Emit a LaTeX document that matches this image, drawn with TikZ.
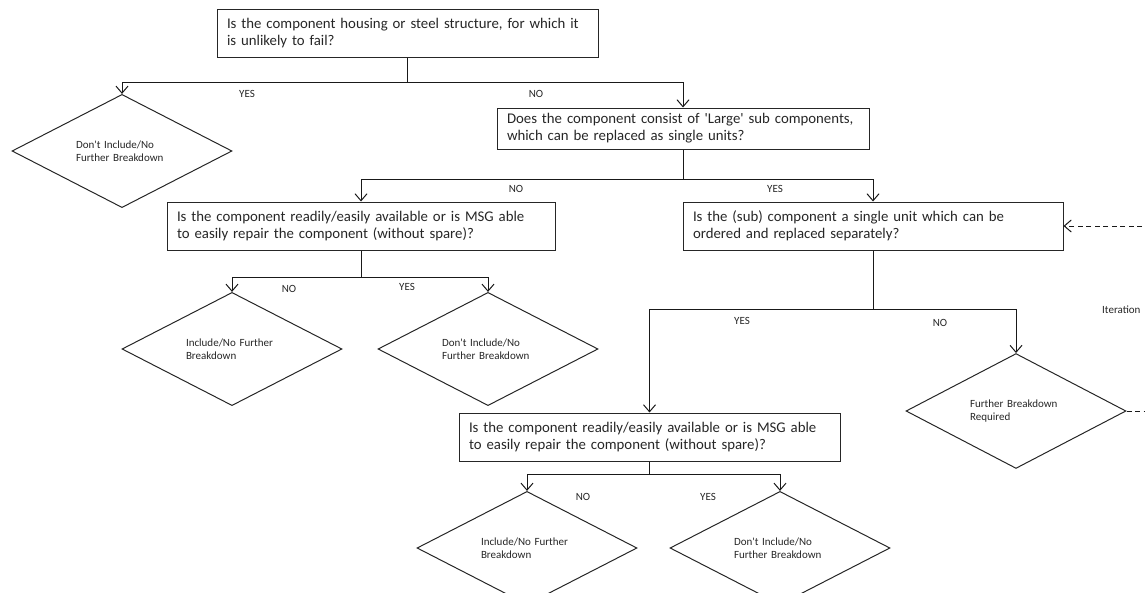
\documentclass[tikz,border=0pt]{standalone}
\usepackage{fontspec}
\setmainfont{Carlito}[Ligatures=TeXOff]
\usetikzlibrary{shapes.geometric,arrows.meta}

\tikzset{
  qbox/.style={draw=black!85, line width=1pt, rectangle, inner xsep=10pt, inner ysep=2pt,
    align=left, font=\fontsize{14.8}{17}\selectfont, text=black!85},
  leaf/.style={draw=black!85, line width=1pt, diamond, inner sep=0pt,
    minimum width=220pt, minimum height=88pt, text width=92pt, align=left,
    font=\fontsize{11}{13.5}\selectfont, text=black!85},
  lbl/.style={font=\fontsize{11}{13}\selectfont, text=black!85, inner sep=0pt},
  conn/.style={draw=black!90, line width=1pt},
  arr/.style={conn, -{Straight Barb[length=7pt,width=12pt,line width=1pt]}},
  loopback/.style={arr, dash pattern=on 5pt off 3.5pt}
}

\begin{document}
\begin{tikzpicture}[x=1pt,y=-1pt]
\useasboundingbox (0,0) rectangle (1145,592);
\clip (0,0) rectangle (1145,592);

% question boxes
\node[qbox, minimum width=381pt, minimum height=48pt, text width=361pt] (b1) at (407.5,33)
  {Is the component housing or steel structure, for which it\\is unlikely to fail?};
\node[qbox, minimum width=372pt, minimum height=41pt, text width=352pt] (b2) at (683,128.5)
  {Does the component consist of 'Large' sub components,\\which can be replaced as single units?};
\node[qbox, minimum width=388pt, minimum height=48pt, text width=368pt] (b3) at (361,226)
  {Is the component readily/easily available or is MSG able\\to easily repair the component (without spare)?};
\node[qbox, minimum width=380pt, minimum height=48pt, text width=360pt] (b4) at (873,226)
  {Is the (sub) component a single unit which can be\\ordered and replaced separately?};
\node[qbox, minimum width=381pt, minimum height=48pt, text width=361pt] (b5) at (649.5,437)
  {Is the component readily/easily available or is MSG able\\to easily repair the component (without spare)?};

% outcome diamonds
\node[leaf] (d1) at (122,151) {Don't Include/No\\Further Breakdown};
\node[leaf] (d2) at (232,349) {Include/No Further\\Breakdown};
\node[leaf] (d3) at (488,349) {Don't Include/No\\Further Breakdown};
\node[leaf] (d4) at (1016,411) {Further Breakdown\\Required};
\node[leaf] (d5) at (527,548) {Include/No Further\\Breakdown};
\node[leaf] (d6) at (780,548) {Don't Include/No\\Further Breakdown};

% branch points
\coordinate (j1) at (407.5,82);
\coordinate (j2) at (683,179);
\coordinate (j3) at (361,277);
\coordinate (j4) at (873,309);
\coordinate (j5) at (649.5,474);

\draw[conn] (b1.south) -- (j1);
\draw[arr] (j1) -| (d1.north);
\draw[arr] (j1) -| (b2.north);

\draw[conn] (b2.south) -- (j2);
\draw[arr] (j2) -| (b3.north);
\draw[arr] (j2) -| (b4.north);

\draw[conn] (b3.south) -- (j3);
\draw[arr] (j3) -| (d2.north);
\draw[arr] (j3) -| (d3.north);

\draw[conn] (b4.south) -- (j4);
\draw[arr] (j4) -| (b5.north);
\draw[arr] (j4) -| (d4.north);

\draw[conn] (b5.south) -- (j5);
\draw[arr] (j5) -| (d5.north);
\draw[arr] (j5) -| (d6.north);

% iteration loop back to the sub component question
\coordinate (loopcorner) at (1165,411);
\draw[loopback] (d4.east) -- (loopcorner) |- (b4.east);

% branch labels
\node[lbl] (l1y) at (247,94) {YES};
\node[lbl] (l1n) at (536,94) {NO};
\node[lbl] (l2n) at (516,189) {NO};
\node[lbl] (l2y) at (775,189) {YES};
\node[lbl] (l3n) at (289,289) {NO};
\node[lbl] (l3y) at (407,287) {YES};
\node[lbl] (l4y) at (742,321) {YES};
\node[lbl] (l4n) at (940,323) {NO};
\node[lbl] (l5n) at (583,497) {NO};
\node[lbl] (l5y) at (708,497) {YES};
\node[lbl, anchor=west] (iter) at (1102,310) {Iteration};
\end{tikzpicture}
\end{document}
